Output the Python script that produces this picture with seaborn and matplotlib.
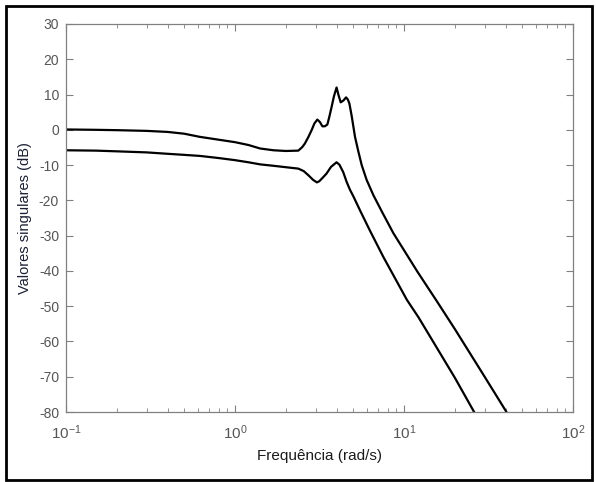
import numpy as np
import pandas as pd
import seaborn as sns
import matplotlib.pyplot as plt
from matplotlib.patches import Rectangle

sns.set_style("ticks")
plt.rcParams['font.family'] = ['Liberation Sans', 'DejaVu Sans']
plt.rcParams['mathtext.default'] = 'regular'
plt.rcParams['axes.unicode_minus'] = False

# singular values (freq in rad/s, gain in dB)
freq_max = [0.1, 0.15, 0.2, 0.3, 0.4, 0.5, 0.62, 0.8, 1.0, 1.2, 1.41, 1.69, 2.0, 2.37,
            2.5, 2.59, 2.72, 2.84, 2.95, 3.07, 3.18, 3.29, 3.4, 3.52, 3.62, 3.73, 3.85,
            3.99, 4.1, 4.22, 4.38, 4.54, 4.65, 4.75, 4.9, 5.13, 5.36, 5.62, 6.01, 6.6,
            7.4, 8.65, 10.9, 12.0, 15.6, 20.0, 30.0, 40.4, 60.0]
sv_max = [0.1, 0.0, -0.1, -0.3, -0.6, -1.1, -2.0, -2.8, -3.5, -4.3, -5.3, -5.8, -6.0, -5.9,
          -4.9, -3.9, -2.0, -0.1, 1.8, 2.9, 2.2, 1.0, 1.0, 1.5, 3.8, 6.5, 9.5,
          12.0, 9.8, 7.8, 8.3, 9.2, 8.6, 7.5, 4.0, -2.0, -6.0, -10.0, -14.2, -18.6,
          -23.2, -29.3, -37.0, -40.2, -48.5, -56.5, -70.0, -80.0, -93.0]

freq_min = [0.1, 0.15, 0.2, 0.3, 0.4, 0.5, 0.62, 0.8, 1.0, 1.2, 1.41, 1.69, 2.0, 2.37,
            2.55, 2.72, 2.9, 3.05, 3.15, 3.3, 3.48, 3.7, 3.99, 4.15, 4.37, 4.58, 4.79,
            5.01, 5.5, 6.29, 7.54, 10.4, 12.2, 20.0, 26.0, 40.0]
sv_min = [-5.8, -5.9, -6.1, -6.4, -6.8, -7.1, -7.4, -8.0, -8.6, -9.2, -9.8, -10.2, -10.6, -11.0,
          -11.7, -12.9, -14.2, -14.9, -14.6, -13.6, -12.4, -10.5, -9.2, -9.9, -12.0, -14.8, -17.0,
          -18.8, -22.9, -28.6, -36.0, -48.2, -53.2, -70.3, -80.0, -95.0]

y_ticks = list(range(-80, 31, 10))

df_max = pd.DataFrame({'w': freq_max, 'db': sv_max})
df_min = pd.DataFrame({'w': freq_min, 'db': sv_min})

fig = plt.figure(figsize=(5.96, 4.82), dpi=100)
ax = fig.add_axes([66/596, 1 - 412/482, (573-66)/596, (412-24)/482])

sns.lineplot(data=df_max, x='w', y='db', color='black', linewidth=1.6, ax=ax)
sns.lineplot(data=df_min, x='w', y='db', color='black', linewidth=1.6, ax=ax)

ax.set_xscale('log')
ax.set_xlim(0.1, 100)
ax.set_ylim(-80, 30)
ax.set_yticks(y_ticks)

gray = '#808080'
for s in ax.spines.values():
    s.set_color(gray)
    s.set_linewidth(0.9)
ax.tick_params(which='both', direction='in', top=True, right=True,
               color=gray, labelcolor='#555555', labelsize=10)
ax.tick_params(which='major', length=5)
ax.tick_params(which='minor', length=3)
ax.tick_params(axis='x', which='major', pad=8, labelsize=11)
ax.tick_params(axis='y', pad=5)

ax.set_xlabel('Frequência (rad/s)', fontsize=11, color='#1a1a1a', labelpad=5)
ax.set_ylabel('Valores singulares (dB)', fontsize=10.5, color='#1a1f33', labelpad=5)

# outer figure frame
fig.patches.append(Rectangle((6/596, 2/482), 586/596, 474/482, transform=fig.transFigure,
                             fill=False, edgecolor='black', linewidth=2))

fig.savefig('out.png', dpi=100)
